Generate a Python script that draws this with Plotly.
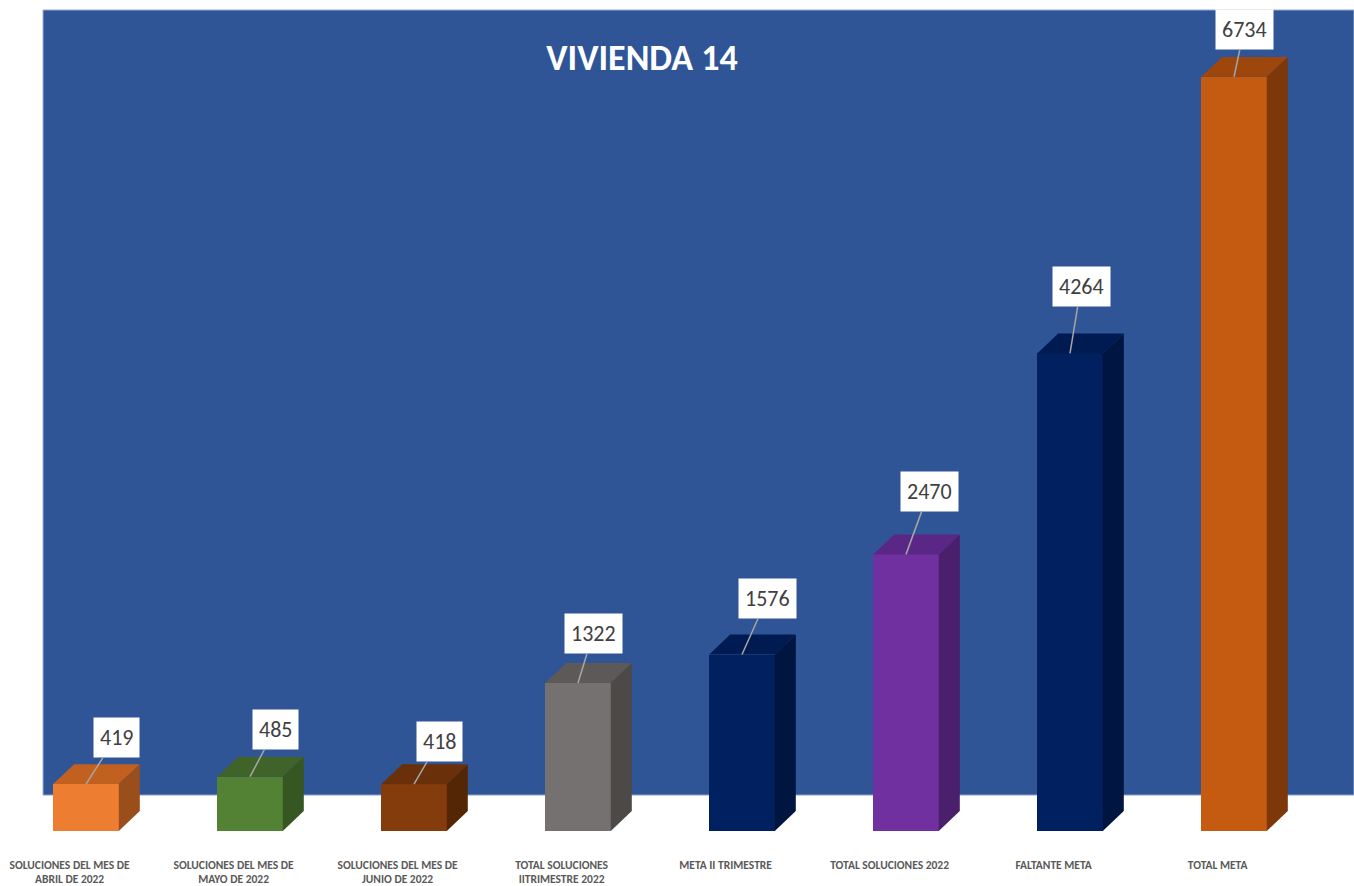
import plotly.graph_objects as go

# ---- data ----
categories = [
    "SOLUCIONES DEL MES DE<br>ABRIL DE 2022",
    "SOLUCIONES DEL MES DE<br>MAYO DE 2022",
    "SOLUCIONES DEL MES DE<br>JUNIO DE 2022",
    "TOTAL SOLUCIONES<br>IITRIMESTRE 2022",
    "META II TRIMESTRE",
    "TOTAL SOLUCIONES 2022",
    "FALTANTE META",
    "TOTAL META",
]
values = [419, 485, 418, 1322, 1576, 2470, 4264, 6734]
title_text = "VIVIENDA 14"

# ---- styles ----
front_colors = ["#ED7D31", "#548235", "#843C0C", "#767171", "#002060", "#7030A0", "#002060", "#C55A11"]
top_colors = ["#C2611F", "#3F6329", "#6A300A", "#5E5959", "#001B52", "#5B2786", "#001B52", "#9D470D"]
side_colors = ["#9A4E1B", "#365622", "#542606", "#4D4946", "#00153F", "#4A1F6B", "#00153F", "#7D380A"]
label_dx = [30, 25, 25, 15, 25, 23, 11, 10]
label_dy = [-47, -47, -43, -49, -56, -63, -67, -47]
FONT = "Carlito, Lato, Liberation Sans, sans-serif"

W, H = 1354, 886
MB = 46
plot_h = H - MB
px_per_x = 164.0
x_first_px = 86.0
zero_px = 833.0
y_top_val = 7420.0
k = (zero_px) / y_top_val            # px per value unit
y_bot_val = -(plot_h - zero_px) / k
x0 = -x_first_px / px_per_x
x1 = (W - x_first_px) / px_per_x

bar_w = 0.4
dx = 21 / px_per_x
dy = 20 / k

fig = go.Figure()

pos = list(range(len(values)))
fig.add_trace(go.Bar(
    x=pos, y=values, width=bar_w,
    marker=dict(color=front_colors, line=dict(width=0)),
    hoverinfo="skip", showlegend=False,
))

for i, v in enumerate(values):
    l, r = i - bar_w / 2, i + bar_w / 2
    fig.add_trace(go.Scatter(
        x=[l, r, r + dx, l + dx, l], y=[v, v, v + dy, v + dy, v],
        fill="toself", fillcolor=top_colors[i], mode="lines",
        line=dict(width=0, color=top_colors[i]), hoverinfo="skip", showlegend=False,
    ))
    fig.add_trace(go.Scatter(
        x=[r, r + dx, r + dx, r, r], y=[0, dy, v + dy, v, 0],
        fill="toself", fillcolor=side_colors[i], mode="lines",
        line=dict(width=0, color=side_colors[i]), hoverinfo="skip", showlegend=False,
    ))

annotations = []
for i, v in enumerate(values):
    annotations.append(dict(
        x=i, y=v, xref="x", yref="y", text=str(v),
        showarrow=True, arrowhead=0, arrowwidth=1.5, arrowcolor="#A6A6A6",
        ax=label_dx[i], ay=label_dy[i], standoff=0,
        bgcolor="white", borderpad=6,
        font=dict(family=FONT, size=22, color="#404040"),
    ))

fig.update_layout(
    width=W, height=H, autosize=False,
    margin=dict(l=0, r=0, t=0, b=MB, pad=0),
    paper_bgcolor="white", plot_bgcolor="white",
    title=dict(text="<b>" + title_text + "</b>", xref="container", yref="container",
               x=642 / W, xanchor="center", y=1 - 57.5 / H, yanchor="middle",
               font=dict(family=FONT, size=36, color="white")),
    xaxis=dict(range=[x0, x1], showgrid=False, zeroline=False, showline=False,
               tickvals=[p - 0.1 for p in pos], ticktext=categories, ticks="",
               ticklabelstandoff=18, ticklabeloverflow="allow",
               tickfont=dict(family=FONT, size=11.5, color="#595959", weight="bold")),
    yaxis=dict(range=[y_bot_val, y_top_val], visible=False, showgrid=False, zeroline=False),
    shapes=[dict(type="rect", xref="paper", yref="paper",
                 x0=43 / W, x1=1.0, y0=(plot_h - 797) / plot_h, y1=(plot_h - 10) / plot_h,
                 fillcolor="#2F5597", line=dict(color="#9BB0D6", width=1), layer="below")],
    annotations=annotations,
    bargap=0,
)

fig.write_html("out.html", config={"displayModeBar": False},
               post_script="document.body.style.margin='0px';")
